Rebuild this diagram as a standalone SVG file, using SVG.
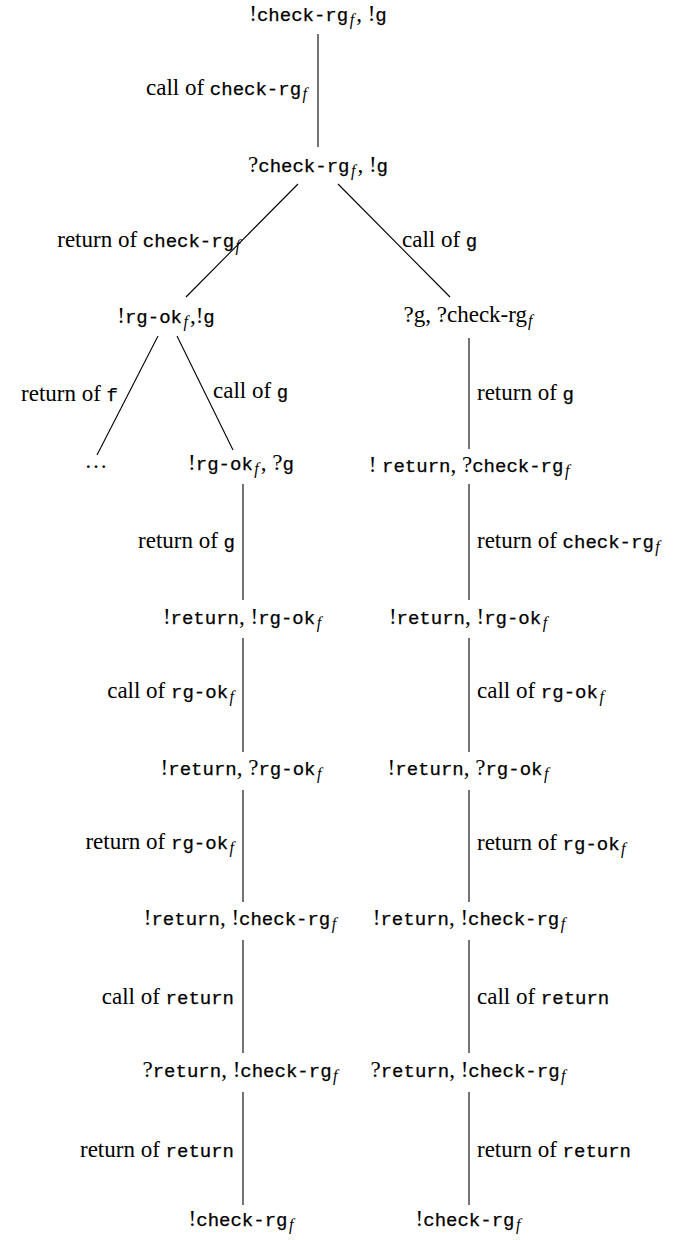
<svg xmlns="http://www.w3.org/2000/svg" width="675" height="1240" viewBox="0 0 675 1240">
<style>
text{fill:#000}
.r{font-family:"Liberation Serif","Times New Roman",serif;font-size:23px}
.t{font-family:"Liberation Mono","Courier New",monospace;font-size:19px;stroke:#000;stroke-width:0.25}
.s{font-family:"Liberation Serif","Times New Roman",serif;font-style:italic;font-size:16px}
.m{text-anchor:middle}
.e{text-anchor:end}
line{stroke:#000;stroke-width:1.1}
</style>
<rect width="675" height="1240" fill="#fff"/>
<g id="connectors">
<g id="e1"><line x1="318" y1="34" x2="318" y2="147"/><text x="307" y="95" class="e"><tspan class="r">call of </tspan><tspan class="t">check-rg</tspan><tspan class="s" dx="1.5" dy="4">f</tspan></text></g>
<g id="e2"><line x1="298" y1="184" x2="186" y2="297"/><text x="240" y="247" class="e"><tspan class="r">return of </tspan><tspan class="t">check-rg</tspan><tspan class="s" dx="1.5" dy="4">f</tspan></text></g>
<g id="e3"><line x1="338" y1="184" x2="450" y2="297"/><text x="402" y="247"><tspan class="r">call of </tspan><tspan class="t">g</tspan></text></g>
<g id="e4"><line x1="158" y1="336" x2="97" y2="455"/><text x="118" y="401" class="e"><tspan class="r">return of </tspan><tspan class="t">f</tspan></text></g>
<g id="e5"><line x1="177" y1="336" x2="233" y2="450"/><text x="213" y="398"><tspan class="r">call of </tspan><tspan class="t">g</tspan></text></g>
<g id="e6"><line x1="469" y1="338" x2="469" y2="449"/><text x="477" y="400"><tspan class="r">return of </tspan><tspan class="t">g</tspan></text></g>
<g id="e7"><line x1="243" y1="484" x2="243" y2="600"/><text x="235" y="548" class="e"><tspan class="r">return of </tspan><tspan class="t">g</tspan></text></g>
<g id="e8"><line x1="469" y1="484" x2="469" y2="600"/><text x="477" y="548"><tspan class="r">return of </tspan><tspan class="t">check-rg</tspan><tspan class="s" dx="1.5" dy="4">f</tspan></text></g>
<g id="e9"><line x1="243" y1="638" x2="243" y2="752"/><text x="234" y="698" class="e"><tspan class="r">call of </tspan><tspan class="t">rg-ok</tspan><tspan class="s" dx="1.5" dy="4">f</tspan></text></g>
<g id="e10"><line x1="469" y1="638" x2="469" y2="752"/><text x="477" y="698"><tspan class="r">call of </tspan><tspan class="t">rg-ok</tspan><tspan class="s" dx="1.5" dy="4">f</tspan></text></g>
<g id="e11"><line x1="243" y1="790" x2="243" y2="902"/><text x="234" y="849" class="e"><tspan class="r">return of </tspan><tspan class="t">rg-ok</tspan><tspan class="s" dx="1.5" dy="4">f</tspan></text></g>
<g id="e12"><line x1="469" y1="790" x2="469" y2="902"/><text x="477" y="850"><tspan class="r">return of </tspan><tspan class="t">rg-ok</tspan><tspan class="s" dx="1.5" dy="4">f</tspan></text></g>
<g id="e13"><line x1="243" y1="940" x2="243" y2="1053"/><text x="234" y="1004" class="e"><tspan class="r">call of </tspan><tspan class="t">return</tspan></text></g>
<g id="e14"><line x1="469" y1="940" x2="469" y2="1053"/><text x="477" y="1004"><tspan class="r">call of </tspan><tspan class="t">return</tspan></text></g>
<g id="e15"><line x1="243" y1="1092" x2="243" y2="1205"/><text x="234" y="1157" class="e"><tspan class="r">return of </tspan><tspan class="t">return</tspan></text></g>
<g id="e16"><line x1="469" y1="1092" x2="469" y2="1205"/><text x="477" y="1157"><tspan class="r">return of </tspan><tspan class="t">return</tspan></text></g>
</g>
<g id="n1"><text x="318" y="21" class="m"><tspan class="r">!</tspan><tspan class="t">check-rg</tspan><tspan class="s" dx="1.5" dy="4">f</tspan><tspan class="r" dx="2" dy="-4">, !</tspan><tspan class="t">g</tspan></text></g>
<g id="n2"><text x="318" y="172" class="m"><tspan class="r">?</tspan><tspan class="t">check-rg</tspan><tspan class="s" dx="1.5" dy="4">f</tspan><tspan class="r" dx="2" dy="-4">, !</tspan><tspan class="t">g</tspan></text></g>
<g id="n3"><text x="166" y="323" class="m"><tspan class="r">!</tspan><tspan class="t">rg-ok</tspan><tspan class="s" dx="1.5" dy="4">f</tspan><tspan class="r" dx="2" dy="-4">,!</tspan><tspan class="t">g</tspan></text></g>
<g id="n4"><text x="468" y="322" class="m"><tspan class="r">?g, ?check-rg</tspan><tspan class="s" dx="1" dy="4">f</tspan></text></g>
<g id="n5"><text x="96" y="468" class="m r">…</text></g>
<g id="n6"><text x="241" y="470" class="m"><tspan class="r">!</tspan><tspan class="t">rg-ok</tspan><tspan class="s" dx="1.5" dy="4">f</tspan><tspan class="r" dx="2" dy="-4">, ?</tspan><tspan class="t">g</tspan></text></g>
<g id="n7"><text x="469" y="472" class="m"><tspan class="r">! </tspan><tspan class="t">return</tspan><tspan class="r">, ?</tspan><tspan class="t">check-rg</tspan><tspan class="s" dx="1.5" dy="4">f</tspan></text></g>
<g id="n8"><text x="242" y="624" class="m"><tspan class="r">!</tspan><tspan class="t">return</tspan><tspan class="r">, !</tspan><tspan class="t">rg-ok</tspan><tspan class="s" dx="1.5" dy="4">f</tspan></text></g>
<g id="n9"><text x="468" y="624" class="m"><tspan class="r">!</tspan><tspan class="t">return</tspan><tspan class="r">, !</tspan><tspan class="t">rg-ok</tspan><tspan class="s" dx="1.5" dy="4">f</tspan></text></g>
<g id="n10"><text x="241" y="775" class="m"><tspan class="r">!</tspan><tspan class="t">return</tspan><tspan class="r">, ?</tspan><tspan class="t">rg-ok</tspan><tspan class="s" dx="1.5" dy="4">f</tspan></text></g>
<g id="n11"><text x="468" y="775" class="m"><tspan class="r">!</tspan><tspan class="t">return</tspan><tspan class="r">, ?</tspan><tspan class="t">rg-ok</tspan><tspan class="s" dx="1.5" dy="4">f</tspan></text></g>
<g id="n12"><text x="240" y="925" class="m"><tspan class="r">!</tspan><tspan class="t">return</tspan><tspan class="r">, !</tspan><tspan class="t">check-rg</tspan><tspan class="s" dx="1.5" dy="4">f</tspan></text></g>
<g id="n13"><text x="469" y="925" class="m"><tspan class="r">!</tspan><tspan class="t">return</tspan><tspan class="r">, !</tspan><tspan class="t">check-rg</tspan><tspan class="s" dx="1.5" dy="4">f</tspan></text></g>
<g id="n14"><text x="240" y="1077" class="m"><tspan class="r">?</tspan><tspan class="t">return</tspan><tspan class="r">, !</tspan><tspan class="t">check-rg</tspan><tspan class="s" dx="1.5" dy="4">f</tspan></text></g>
<g id="n15"><text x="468" y="1077" class="m"><tspan class="r">?</tspan><tspan class="t">return</tspan><tspan class="r">, !</tspan><tspan class="t">check-rg</tspan><tspan class="s" dx="1.5" dy="4">f</tspan></text></g>
<g id="n16"><text x="241" y="1226" class="m"><tspan class="r">!</tspan><tspan class="t">check-rg</tspan><tspan class="s" dx="1.5" dy="4">f</tspan></text></g>
<g id="n17"><text x="468" y="1226" class="m"><tspan class="r">!</tspan><tspan class="t">check-rg</tspan><tspan class="s" dx="1.5" dy="4">f</tspan></text></g>
</svg>
